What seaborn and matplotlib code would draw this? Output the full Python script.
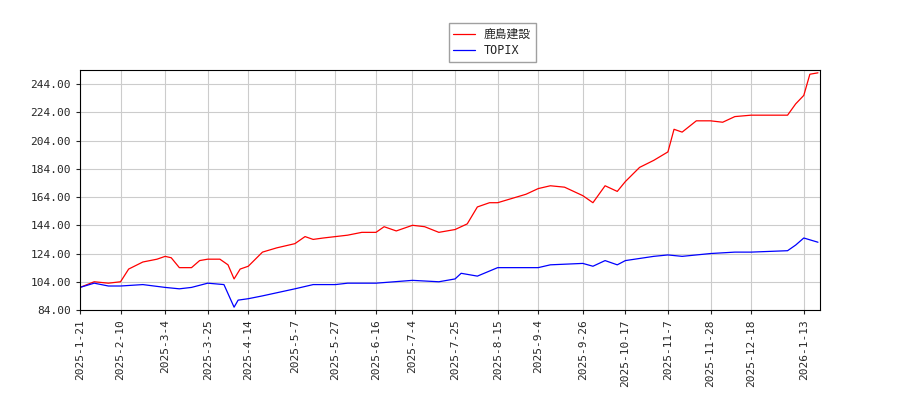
import matplotlib
matplotlib.use("Agg")
import matplotlib.pyplot as plt
import seaborn as sns
import pandas as pd

red_dates = ["2025-01-21","2025-01-28","2025-02-04","2025-02-10","2025-02-14","2025-02-21","2025-02-28","2025-03-04","2025-03-07","2025-03-11","2025-03-17","2025-03-21","2025-03-25","2025-03-31","2025-04-04","2025-04-07","2025-04-10","2025-04-14","2025-04-21","2025-04-28","2025-05-07","2025-05-12","2025-05-16","2025-05-21","2025-05-27","2025-06-02","2025-06-09","2025-06-16","2025-06-20","2025-06-26","2025-07-04","2025-07-10","2025-07-17","2025-07-25","2025-07-31","2025-08-05","2025-08-11","2025-08-15","2025-08-22","2025-08-29","2025-09-04","2025-09-10","2025-09-17","2025-09-26","2025-10-01","2025-10-07","2025-10-13","2025-10-17","2025-10-24","2025-10-31","2025-11-07","2025-11-10","2025-11-14","2025-11-21","2025-11-28","2025-12-04","2025-12-10","2025-12-18","2025-12-25","2026-01-05","2026-01-09","2026-01-13","2026-01-16","2026-01-20"]
red_vals = [100,104,103,104,113,118,120,122,121,114,114,119,120,120,116,106,113,115,125,128,131,136,134,135,136,137,139,139,143,140,144,143,139,141,145,157,160,160,163,166,170,172,171,165,160,172,168,175,185,190,196,212,210,218,218,217,221,222,222,222,230,236,251,252]

blue_dates = ["2025-01-21","2025-01-28","2025-02-04","2025-02-10","2025-02-21","2025-03-04","2025-03-11","2025-03-17","2025-03-25","2025-04-02","2025-04-07","2025-04-09","2025-04-14","2025-04-21","2025-05-07","2025-05-16","2025-05-27","2025-06-02","2025-06-16","2025-07-04","2025-07-17","2025-07-25","2025-07-28","2025-08-05","2025-08-15","2025-08-22","2025-09-04","2025-09-10","2025-09-26","2025-10-01","2025-10-07","2025-10-13","2025-10-17","2025-10-31","2025-11-07","2025-11-14","2025-11-21","2025-11-28","2025-12-10","2025-12-18","2026-01-05","2026-01-09","2026-01-13","2026-01-20"]
blue_vals = [100,103,101,101,102,100,99,100,103,102,86,91,92,94,99,102,102,103,103,105,104,106,110,108,114,114,114,116,117,115,119,116,119,122,123,122,123,124,125,125,126,130,135,132]

tick_dates = ["2025-01-21","2025-02-10","2025-03-04","2025-03-25","2025-04-14","2025-05-07","2025-05-27","2025-06-16","2025-07-04","2025-07-25","2025-08-15","2025-09-04","2025-09-26","2025-10-17","2025-11-07","2025-11-28","2025-12-18","2026-01-13"]
tick_labels = ["2025-1-21","2025-2-10","2025-3-4","2025-3-25","2025-4-14","2025-5-7","2025-5-27","2025-6-16","2025-7-4","2025-7-25","2025-8-15","2025-9-4","2025-9-26","2025-10-17","2025-11-7","2025-11-28","2025-12-18","2026-1-13"]

sns.set_style("white")
plt.rcParams['font.family'] = ['DejaVu Sans Mono', 'Noto Sans CJK JP']

fig = plt.figure(figsize=(9, 4), dpi=100)
ax = fig.add_axes([80/900, 90/400, 740/900, 240/400])
rd = pd.DataFrame({"d": pd.to_datetime(red_dates), "v": red_vals})
bd = pd.DataFrame({"d": pd.to_datetime(blue_dates), "v": blue_vals})
sns.lineplot(data=rd, x="d", y="v", ax=ax, color="red", lw=0.9, label="鹿島建設")
sns.lineplot(data=bd, x="d", y="v", ax=ax, color="blue", lw=0.9, label="TOPIX")
ax.set_xlim(pd.Timestamp("2025-01-21"), pd.Timestamp("2026-01-21"))
ax.set_ylim(84, 254)
yt = [84,104,124,144,164,184,204,224,244]
ax.set_yticks(yt)
ax.set_yticklabels([f"{v:.2f}" for v in yt], fontsize=8)
ax.set_xticks(pd.to_datetime(tick_dates))
ax.set_xticklabels(tick_labels, rotation=90, fontsize=8)
ax.set_xlabel(""); ax.set_ylabel("")
ax.grid(True, color="#cccccc", lw=0.8)
for s in ax.spines.values():
    s.set_color("black"); s.set_linewidth(0.8)
ax.tick_params(left=True, bottom=True, length=3)
ax.legend(loc="upper center", bbox_to_anchor=(0.557, 1.22), frameon=True, fancybox=False,
          edgecolor="#888888", fontsize=8.5, handlelength=1.8, borderpad=0.4, labelspacing=0.3)
fig.savefig("out.png", dpi=100)
